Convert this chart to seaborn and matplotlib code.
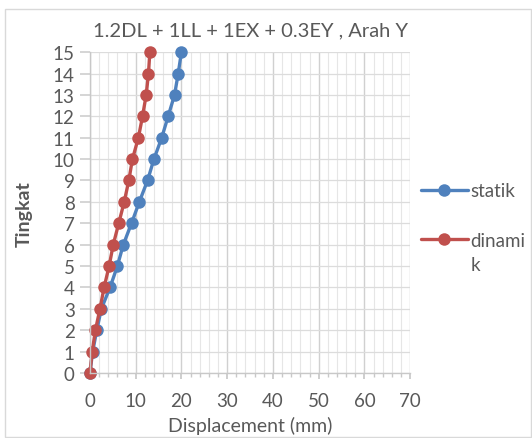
import matplotlib
matplotlib.use("Agg")
import matplotlib.pyplot as plt
import seaborn as sns
import pandas as pd
import numpy as np
from matplotlib.patches import Rectangle
from matplotlib.ticker import MultipleLocator

levels = list(range(0, 16))
statik = [0.0, 0.6, 1.5, 2.5, 4.4, 6.0, 7.3, 9.1, 10.8, 12.6, 14.0, 15.7, 17.1, 18.5, 19.3, 20.0]
dinamik = [0.0, 0.5, 1.2, 2.2, 3.1, 4.2, 5.1, 6.3, 7.5, 8.5, 9.3, 10.6, 11.5, 12.3, 12.8, 13.1]
series_names = ["statik", "dinami"]
label_wrap = "k"
colors = ["#4F81BD", "#C0504D"]
title = "1.2DL + 1LL + 1EX + 0.3EY , Arah Y"

df = pd.DataFrame({
    "Tingkat": levels * 2,
    "Displacement": statik + dinamik,
    "seri": [series_names[0]] * len(levels) + [series_names[1]] * len(levels),
})

sns.set_theme(style="white")
plt.rcParams["font.family"] = ["Lato", "DejaVu Sans"]

fig = plt.figure(figsize=(5.32, 4.39), dpi=100)
ax = fig.add_axes([0.169, 0.148, 0.602, 0.731])

sns.lineplot(data=df, x="Displacement", y="Tingkat", hue="seri", palette=colors,
             sort=False, estimator=None, marker="o", markersize=9, linewidth=2.4,
             markeredgewidth=0, ax=ax, legend=True)
for ln in ax.lines:
    ln.set_clip_on(False)

ax.set_xlim(0, 70)
ax.set_ylim(0, 15)
ax.xaxis.set_major_locator(MultipleLocator(10))
ax.xaxis.set_minor_locator(MultipleLocator(2))
ax.yaxis.set_major_locator(MultipleLocator(1))
ax.grid(which="major", axis="x", color="#d0d0d0", linewidth=1.0)
ax.grid(which="minor", axis="x", color="#e6e6e6", linewidth=0.8)
ax.grid(which="major", axis="y", color="#dcdcdc", linewidth=0.9)
ax.set_axisbelow(True)
for s in ["top", "right"]:
    ax.spines[s].set_visible(False)
for s in ["left", "bottom"]:
    ax.spines[s].set_color("#c8c8c8")
    ax.spines[s].set_linewidth(1.0)
ax.tick_params(axis="x", which="both", direction="out", length=4, color="#c8c8c8", bottom=True,
               labelsize=13.5, labelcolor="#595959", pad=10)
ax.tick_params(axis="x", which="minor", length=3)
ax.tick_params(axis="y", direction="out", length=7, color="#d0d0d0", left=True,
               labelsize=13.5, labelcolor="#595959", pad=4)

ax.set_xlabel("Displacement (mm)", fontsize=14, color="#595959", labelpad=5)
ax.set_ylabel("Tingkat", fontsize=14, color="#595959", fontweight="bold", labelpad=14)
ax.set_title(title, fontsize=14.5, color="#595959", pad=12)

leg = ax.legend(loc="upper left", bbox_to_anchor=(1.01, 0.618), frameon=False,
                fontsize=13.5, labelcolor="#595959", handlelength=2.5, handletextpad=0.15,
                labelspacing=1.75, borderaxespad=0)

fig.patches.append(Rectangle((0.009, 0.002), 0.99, 0.975, transform=fig.transFigure,
                             fill=False, edgecolor="#d9d9d9", linewidth=1.0))

fig.canvas.draw()
t = leg.get_texts()[1]
bb = t.get_window_extent()
fig.text(bb.x0 / fig.bbox.width, (bb.y0 - 24) / fig.bbox.height, label_wrap,
         fontsize=13.5, color="#595959", ha="left", va="bottom")

fig.savefig("out.png", dpi=100)
